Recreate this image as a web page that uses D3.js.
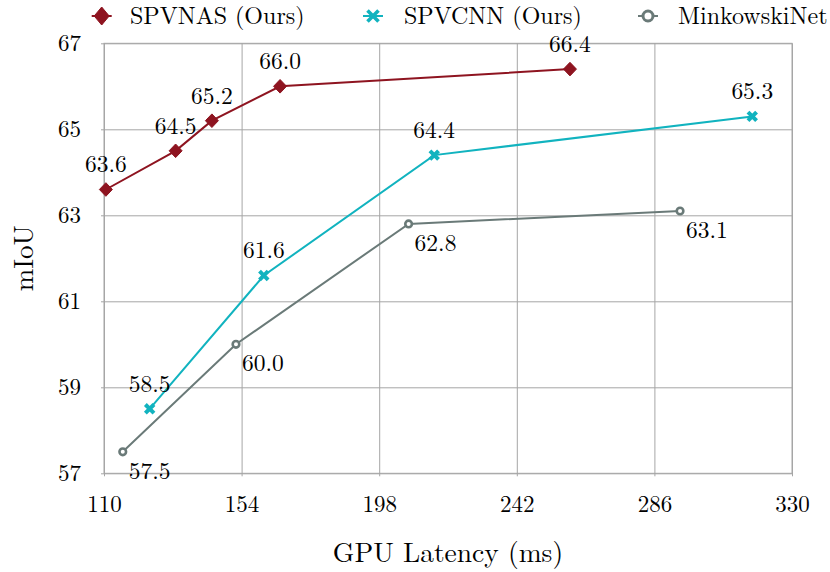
<!DOCTYPE html>
<html>
<head>
<meta charset="utf-8">
<script src="https://cdn.jsdelivr.net/npm/d3@7"></script>
<style>
    body { margin: 0; background: #fff; }
    .axis path { display: none; }
    .axis line { stroke: #a6a6a6; stroke-width: 1; }
</style>
</head>
<body>
<svg id="chart" width="830" height="572"></svg>
<script>
    // ---- data ----
    var xTicks = [110, 154, 198, 242, 286, 330];
    var yTicks = [57, 59, 61, 63, 65, 67];

    var spvnasLatency = [110.6, 132.9, 144.5, 166.3, 259.0];
    var spvnasMiou    = [63.6, 64.5, 65.2, 66.0, 66.4];

    var spvcnnLatency = [124.6, 161.1, 215.6, 317.3];
    var spvcnnMiou    = [58.5, 61.6, 64.4, 65.3];

    var minkLatency = [116.0, 152.2, 207.4, 294.2];
    var minkMiou    = [57.5, 60.0, 62.8, 63.1];

    var seriesNames = ['SPVNAS (Ours)', 'SPVCNN (Ours)', 'MinkowskiNet'];

    var FONT = "'Latin Modern Roman', 'Liberation Serif', serif";

    // ---- layout ----
    var margin = { top: 43.3, left: 104 };
    var width = 688, height = 430;

    var svg = d3.select('#chart');
    var g = svg.append('g')
        .attr('transform', 'translate(' + margin.left + ',' + margin.top + ')');

    var xScale = d3.scaleLinear().domain([110, 330]).range([0, width]);
    var yScale = d3.scaleLinear().domain([57, 67]).range([height, 0]);

    var series = [
        { name: seriesNames[0], x: spvnasLatency, y: spvnasMiou, color: '#8e1420', marker: 'diamond', labelPos: 'above' },
        { name: seriesNames[1], x: spvcnnLatency, y: spvcnnMiou, color: '#11b3bf', marker: 'cross',   labelPos: 'above' },
        { name: seriesNames[2], x: minkLatency,   y: minkMiou,   color: '#6a7a78', marker: 'circle',  labelPos: 'belowright' }
    ];

    // ---- grid + axes ----
    var xAxis = d3.axisBottom(xScale)
        .tickValues(xTicks)
        .tickSizeInner(-height)
        .tickSizeOuter(0)
        .tickFormat(d3.format('d'));

    var gx = g.append('g')
        .attr('class', 'x axis')
        .attr('transform', 'translate(0,' + height + ')')
        .call(xAxis);
    gx.selectAll('line').attr('y1', 3);
    gx.selectAll('text')
        .attr('y', 38.5)
        .attr('dy', 0)
        .attr('fill', '#000')
        .style('font-family', FONT)
        .style('font-size', '23px');

    var yAxis = d3.axisLeft(yScale)
        .tickValues(yTicks)
        .tickSizeInner(-width)
        .tickSizeOuter(0)
        .tickFormat(d3.format('d'));

    var gy = g.append('g')
        .attr('class', 'y axis')
        .call(yAxis);
    gy.selectAll('line').attr('x1', -3);
    gy.selectAll('text')
        .attr('x', -23)
        .attr('dy', 7.4)
        .attr('fill', '#000')
        .style('font-family', FONT)
        .style('font-size', '23px');

    // frame
    g.append('rect')
        .attr('width', width)
        .attr('height', height)
        .attr('fill', 'none')
        .attr('stroke', '#a6a6a6')
        .attr('stroke-width', 1);

    // axis titles
    svg.append('text')
        .attr('x', margin.left + width / 2)
        .attr('y', 562)
        .attr('text-anchor', 'middle')
        .style('font-family', FONT)
        .style('font-size', '27.5px')
        .text('GPU Latency (ms)');

    svg.append('text')
        .attr('transform', 'translate(33,' + (margin.top + height / 2) + ') rotate(-90)')
        .attr('text-anchor', 'middle')
        .style('font-family', FONT)
        .style('font-size', '27px')
        .text('mIoU');

    // ---- markers ----
    function drawMarker(sel, type, color, size) {
        if (type === 'diamond') {
            sel.append('path')
                .attr('d', 'M0,' + (-size.h) + 'L' + size.w + ',0L0,' + size.h + 'L' + (-size.w) + ',0Z')
                .attr('fill', color)
                .attr('stroke', color)
                .attr('stroke-width', 1);
        } else if (type === 'cross') {
            var s = size.w;
            sel.append('path')
                .attr('d', 'M' + (-s) + ',' + (-s) + 'L' + s + ',' + s + 'M' + (-s) + ',' + s + 'L' + s + ',' + (-s))
                .attr('stroke', color)
                .attr('stroke-width', size.sw)
                .attr('stroke-linecap', 'butt')
                .attr('fill', 'none');
        } else {
            sel.append('circle')
                .attr('r', size.w)
                .attr('fill', '#fff')
                .attr('stroke', color)
                .attr('stroke-width', size.sw);
        }
    }

    var line = d3.line()
        .x(function(d) { return xScale(d[0]); })
        .y(function(d) { return yScale(d[1]); });

    var markerSize = {
        diamond: { w: 6.5, h: 6.8 },
        cross:   { w: 4.3, sw: 4 },
        circle:  { w: 3.3, sw: 2.6 }
    };

    series.forEach(function(s) {
        var pts = s.x.map(function(v, i) { return [v, s.y[i]]; });

        g.append('path')
            .datum(pts)
            .attr('d', line)
            .attr('fill', 'none')
            .attr('stroke', s.color)
            .attr('stroke-width', 2);

        pts.forEach(function(p) {
            var m = g.append('g')
                .attr('transform', 'translate(' + xScale(p[0]) + ',' + yScale(p[1]) + ')');
            drawMarker(m, s.marker, s.color, markerSize[s.marker]);
        });
    });

    // value labels on top
    series.forEach(function(s) {
        s.x.forEach(function(v, i) {
            var px = xScale(v), py = yScale(s.y[i]);
            var t = g.append('text')
                .style('font-family', FONT)
                .style('font-size', '23.5px')
                .text(s.y[i].toFixed(1));
            if (s.labelPos === 'above') {
                t.attr('x', px).attr('y', py - 17).attr('text-anchor', 'middle');
            } else {
                t.attr('x', px + 6).attr('y', py + 27).attr('text-anchor', 'start');
            }
        });
    });

    // ---- legend ----
    var legendItems = [
        { marker: 101.7, text: 130 },
        { marker: 373,   text: 404 },
        { marker: 648,   text: 678 }
    ];
    var legendMarkerSize = {
        diamond: { w: 7.5, h: 9 },
        cross:   { w: 5.5, sw: 3.6 },
        circle:  { w: 5, sw: 3 }
    };

    series.forEach(function(s, i) {
        var lg = svg.append('g')
            .attr('transform', 'translate(' + legendItems[i].marker + ',16)');
        lg.append('line')
            .attr('x1', -10).attr('x2', 10)
            .attr('stroke', s.color)
            .attr('stroke-width', 2);
        drawMarker(lg, s.marker, s.color, legendMarkerSize[s.marker]);

        svg.append('text')
            .attr('x', legendItems[i].text)
            .attr('y', 23.5)
            .style('font-family', FONT)
            .style('font-size', '24px')
            .text(s.name);
    });
</script>
</body>
</html>
